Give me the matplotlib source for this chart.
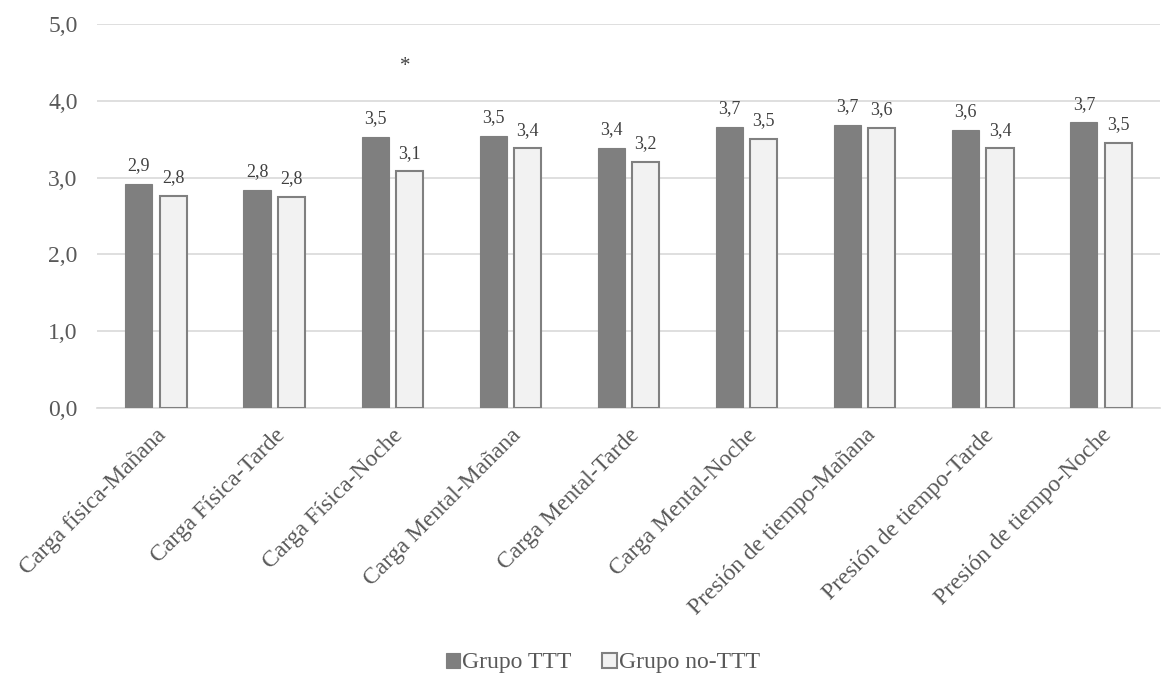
import matplotlib
matplotlib.use("Agg")
import matplotlib.pyplot as plt
import numpy as np

categories = ["Carga física-Mañana", "Carga Física-Tarde", "Carga Física-Noche",
              "Carga Mental-Mañana", "Carga Mental-Tarde", "Carga Mental-Noche",
              "Presión de tiempo-Mañana", "Presión de tiempo-Tarde", "Presión de tiempo-Noche"]
grupo_ttt = [2.92, 2.84, 3.53, 3.54, 3.39, 3.66, 3.69, 3.62, 3.72]
grupo_no_ttt = [2.76, 2.75, 3.08, 3.38, 3.20, 3.50, 3.65, 3.38, 3.45]
series_names = ["Grupo TTT", "Grupo no-TTT"]
yticks = [0, 1, 2, 3, 4, 5]

plt.rcParams['font.family'] = ['Liberation Serif', 'DejaVu Serif']

fig = plt.figure(figsize=(11.64, 6.75), dpi=100)
ax = fig.add_axes([0.0833, 0.3956, 0.9133, 0.5688])

x = np.arange(len(categories))
w = 0.23
gap = 0.06
b1 = ax.bar(x - (w + gap) / 2, grupo_ttt, w, color="#7f7f7f", edgecolor="#7f7f7f",
            linewidth=0.8, label=series_names[0], zorder=3)
b2 = ax.bar(x + (w + gap) / 2, grupo_no_ttt, w, color="#f2f2f2", edgecolor="#808080",
            linewidth=1.5, label=series_names[1], zorder=3)

for bars in (b1, b2):
    for r in bars:
        h = r.get_height()
        ax.annotate(f"{h:.1f}".replace(".", ","), (r.get_x() + r.get_width() / 2, h),
                    xytext=(0, 7), textcoords="offset points", ha="center", va="bottom",
                    fontsize=13, color="#404040")

ax.text(2 + 0.11, 4.45, "*", ha="center", va="center", fontsize=15, color="#404040")

ax.set_xlim(-0.5, len(categories) - 0.5)
ax.set_ylim(0, 5)
ax.set_yticks(yticks)
ax.set_yticklabels([f"{t:.1f}".replace(".", ",") for t in yticks], fontsize=17, color="#595959")
ax.set_xticks(x)
ax.set_xticklabels(categories, rotation=45, ha="right", rotation_mode="anchor",
                   fontsize=17, color="#595959")
ax.tick_params(axis="y", length=0, pad=14)
ax.tick_params(axis="x", length=0, pad=12)
ax.grid(axis="y", color="#d9d9d9", linewidth=1.2, zorder=0)
for s in ["top", "right", "left"]:
    ax.spines[s].set_visible(False)
ax.spines["bottom"].set_color("#d9d9d9")
ax.spines["bottom"].set_linewidth(1.2)

leg = fig.legend(loc="center", bbox_to_anchor=(0.518, 0.018), ncol=2, frameon=False,
                 fontsize=17, handlelength=0.6, handleheight=0.6, handletextpad=0.1,
                 columnspacing=1.3)
for t in leg.get_texts():
    t.set_color("#595959")

fig.savefig("out.png", dpi=100)
